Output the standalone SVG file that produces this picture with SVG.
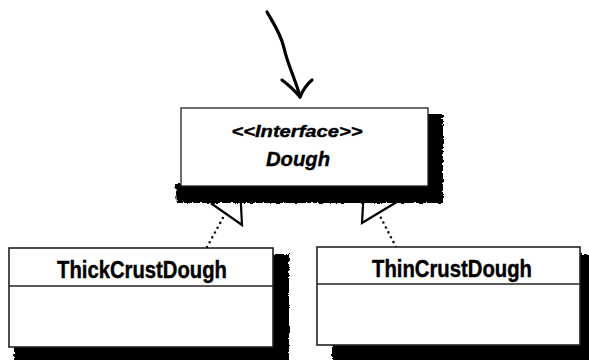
<svg xmlns="http://www.w3.org/2000/svg" width="589" height="360" viewBox="0 0 589 360">
<style>
.box{fill:#fff;stroke:#222;stroke-width:1.6}
.div{stroke:#222;stroke-width:1.6}
.shadow{fill:#000;filter:url(#rough)}
.name{font-family:"Liberation Sans",Arial,sans-serif;font-weight:bold;fill:#000;text-anchor:middle;stroke:#000;stroke-width:0.4}
.ital{font-style:italic}
.dots{fill:none;stroke:#111;stroke-width:2.6;stroke-linecap:round;stroke-dasharray:0 5.5}
.tri{fill:#fff;stroke:#000;stroke-width:2.2;stroke-linejoin:miter}
.hand{fill:none;stroke:#000;stroke-width:3.2;stroke-linecap:round;stroke-linejoin:round}
</style>
<defs>
<filter id="rough" x="-5%" y="-20%" width="110%" height="140%">
<feTurbulence type="fractalNoise" baseFrequency="0.35" numOctaves="2" seed="3" result="n"/>
<feDisplacementMap in="SourceGraphic" in2="n" scale="4" xChannelSelector="R" yChannelSelector="G"/>
</filter>
</defs>
<rect width="589" height="360" fill="#fff"/>

<g id="connectors">
<path class="hand" d="M267,12 C274,24 281,34 284,48 C288,66 296,80 300,97"/>
<path class="hand" d="M282,80 C290,86 296,92 300,97 C303,90 307,84 312,80"/>
<path class="dots" d="M207,247 L224,216"/>
<polygon class="tri" points="240,186 212,204 242,225"/>
<path class="dots" d="M396,247 L380,216"/>
<polygon class="tri" points="364,188 362,223 395,203"/>
</g>

<g id="dough">
<path class="shadow" d="M175,184 L426,184 L426,114 L443,114 L443,203 L177,203 Z"/>
<rect class="box" x="181" y="108" width="247" height="78" style="stroke-width:1.3"/>
<text class="name ital" x="297" y="137" font-size="16" textLength="131" lengthAdjust="spacingAndGlyphs">&lt;&lt;Interface&gt;&gt;</text>
<text class="name ital" x="298" y="166" font-size="21" textLength="64" lengthAdjust="spacingAndGlyphs">Dough</text>
</g>

<g id="thickcrustdough">
<path class="shadow" d="M271,254 L289,254 L289,362 L14,362 L14,345 L271,345 Z"/>
<rect class="box" x="9" y="248" width="264" height="99"/>
<line class="div" x1="9" y1="286" x2="273" y2="286"/>
<text class="name" x="142" y="278" font-size="23" textLength="170" lengthAdjust="spacingAndGlyphs">ThickCrustDough</text>
</g>

<g id="thincrustdough">
<path class="shadow" d="M578,254 L596,254 L596,362 L332,362 L332,343 L578,343 Z"/>
<rect class="box" x="317" y="247" width="263" height="98"/>
<line class="div" x1="317" y1="284" x2="580" y2="284"/>
<text class="name" x="452" y="277" font-size="23" textLength="160" lengthAdjust="spacingAndGlyphs">ThinCrustDough</text>
</g>
</svg>
